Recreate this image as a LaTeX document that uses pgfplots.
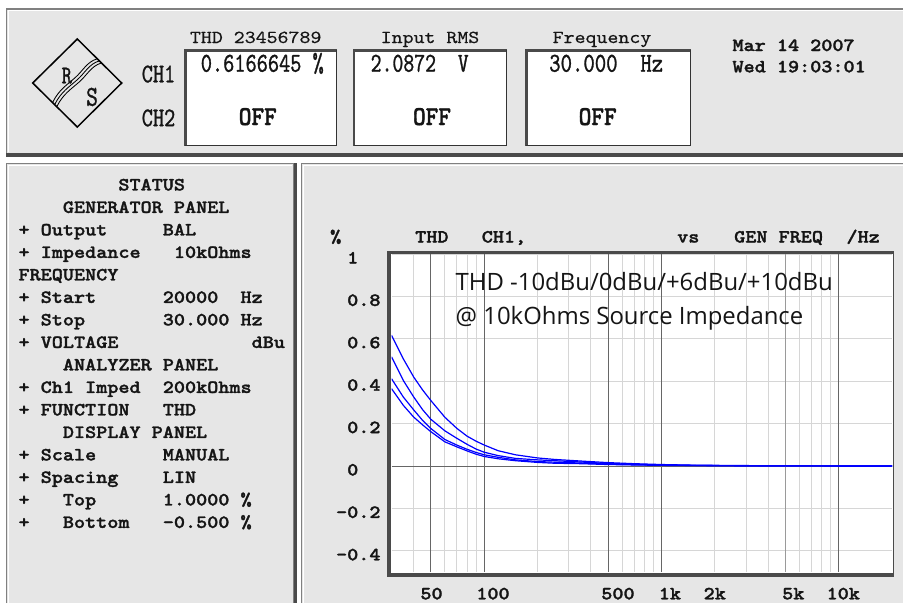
\documentclass[border=0pt]{standalone}
\usepackage{graphicx}
\usepackage{pgfplots}
\pgfplotsset{compat=1.18}
\usepackage{pgfplotstable}
\usepackage{fontspec}
\newfontfamily\courb[FakeStretch=1.14, FakeBold=1.6]{lmmonolt10-bold.otf}
\newfontfamily\courr[FakeStretch=1.14, FakeBold=0.4]{lmmono10-regular.otf}
\newfontfamily\condr[FakeStretch=0.77, FakeBold=1.0]{lmmono10-regular.otf}
\newfontfamily\condb[FakeStretch=0.77, FakeBold=1.2]{lmmonolt10-bold.otf}
\newfontfamily\comic{Open Sans}
\definecolor{panel}{HTML}{E6E6E6}
\definecolor{edge}{HTML}{808080}
\definecolor{dark}{HTML}{4A4A4A}
\definecolor{gridl}{HTML}{D6D6D6}
\definecolor{gridd}{HTML}{666666}
\definecolor{gridm}{HTML}{9A9A9A}
\definecolor{txt}{HTML}{151515}
\definecolor{trace}{HTML}{0000FF}

\pgfplotstableread{
f y
30 0.617
35 0.505
40 0.420
45 0.358
50 0.309
60 0.230
70 0.178
80 0.141
90 0.117
100 0.099
120 0.072
150 0.053
200 0.038
250 0.031
350 0.0235
500 0.016
700 0.011
1000 0.007
1500 0.004
2000 0.003
3000 0.002
5000 0.001
10000 0.0005
20000 0.0
}\curveA
\pgfplotstableread{
f y
30 0.515
35 0.403
40 0.326
45 0.265
50 0.2205
60 0.166
70 0.131
80 0.1025
90 0.080
100 0.065
120 0.049
150 0.036
200 0.029
250 0.025
350 0.019
500 0.012
700 0.008
1000 0.005
1500 0.003
2000 0.002
3000 0.0015
5000 0.001
10000 0.0005
20000 0.0
}\curveB
\pgfplotstableread{
f y
30 0.412
35 0.325
40 0.265
45 0.2145
50 0.177
60 0.125
70 0.099
80 0.079
90 0.064
100 0.053
120 0.041
150 0.029
200 0.021
250 0.018
350 0.014
500 0.009
700 0.006
1000 0.004
1500 0.0025
2000 0.002
3000 0.0015
5000 0.001
10000 0.0005
20000 0.0
}\curveC
\pgfplotstableread{
f y
30 0.365
35 0.286
40 0.231
45 0.1935
50 0.162
60 0.114
70 0.0906
80 0.0713
90 0.0557
100 0.045
120 0.034
150 0.025
200 0.017
250 0.013
350 0.011
500 0.007
700 0.005
1000 0.003
1500 0.002
2000 0.0015
3000 0.001
5000 0.0008
10000 0.0004
20000 0.0
}\curveD

\newcommand\fb{\courb\fontsize{18.55}{20}\selectfont}
\newcommand\fr{\courr\fontsize{18.3}{20}\selectfont}
\newcommand\fitw[2]{\resizebox{#1}{\height}{#2}}

\begin{document}
\begin{tikzpicture}
\begin{scope}[x=1pt,y=-1pt]
\useasboundingbox (0,0) rectangle (903,603);
\fill[white] (0,0) rectangle (903,603);
% ---------- top panel
\fill[panel] (6,8.3) rectangle (903,156.7);
\draw[edge, line width=1.2pt] (6.6,156) -- (6.6,8.9) -- (903,8.9);
\draw[white, line width=1pt] (8.4,152) -- (8.4,10.7) -- (903,10.7);
\fill[dark] (6,152.7) rectangle (903,156.7);
% ---------- status panel
\fill[panel] (6,162.7) rectangle (297,603);
\draw[edge, line width=1.2pt] (6.6,603) -- (6.6,163.3) -- (294,163.3);
\draw[white, line width=1pt] (8.6,603) -- (8.6,165.5) -- (292,165.5);
\fill[edge] (292.7,163) rectangle (294,603);
\fill[dark] (294,163) rectangle (296.8,603);
% ---------- plot panel
\fill[panel] (300.7,162.7) rectangle (903,603);
\draw[edge, line width=1.2pt] (301.3,603) -- (301.3,163.3) -- (903,163.3);
\draw[white, line width=1pt] (303.5,603) -- (303.5,165.5) -- (903,165.5);
% ---------- display boxes
\foreach \xa/\xb in {184.3/337, 353/507, 525.3/691.2}{
  \fill[white] (\xa,49.3) rectangle (\xb,145.7);
  \fill[dark] (\xa,49.3) rectangle (\xb,52.3);
  \fill[dark] (\xa,49.3) rectangle ({\xa+2.2},145.7);
  \draw[black!80, line width=1pt] ({\xa+1},145.2) -- ({\xb-0.5},145.2) -- ({\xb-0.5},50);
}
% ---------- logo
\draw[black, line width=1.5pt, line join=miter] (77.3,39) -- (121.7,83) -- (77.3,127) -- (32.7,83) -- cycle;
\foreach \d in {-2.1,0,2.1}{
  \draw[black, line width=0.85pt, shift={(\d,\d)}] (55,104) .. controls (61,92) and (69,87) .. (77,80) .. controls (85,73) and (89,64) .. (99,61);
}
\node[anchor=base west, inner sep=0pt, text=txt, font=\condr\fontsize{25.5}{24}\selectfont] at (61.5,83.3) {R};
\node[anchor=base west, inner sep=0pt, text=txt, font=\condr\fontsize{29}{28}\selectfont] at (86,105.8) {S};
\node[anchor=base west, inner sep=0pt, text=txt, font=\condr\fontsize{27}{27}\selectfont] at (141.6,82.3) {\fitw{33.5pt}{CH1}};
\node[anchor=base west, inner sep=0pt, text=txt, font=\condr\fontsize{27}{27}\selectfont] at (141.6,126.2) {\fitw{33.5pt}{CH2}};
% ---------- box titles and values
\node[anchor=base, inner sep=0pt, text=txt, font=\fr] at (255.7,43) {THD~23456789};
\node[anchor=base, inner sep=0pt, text=txt, font=\fr] at (430,43) {Input~RMS};
\node[anchor=base, inner sep=0pt, text=txt, font=\fr] at (602,43) {Frequency};
\begin{scope}[every node/.style={anchor=base west, inner sep=0pt, text=txt, font=\condr\fontsize{27.3}{27}\selectfont}]
\node at (200.6,71.7) {\fitw{123pt}{0.6166645~\%}};
\node at (370.5,71.7) {\fitw{98pt}{2.0872~~V}};
\node at (549,71.7) {\fitw{114pt}{30.000~~Hz}};
\end{scope}
\begin{scope}[every node/.style={anchor=base, inner sep=0pt, text=txt, font=\condb\fontsize{27.3}{27}\selectfont}]
\node at (257.8,125) {\fitw{38pt}{OFF}};
\node at (432,125) {\fitw{38pt}{OFF}};
\node at (597.7,125) {\fitw{38pt}{OFF}};
\end{scope}
\node[anchor=base west, inner sep=0pt, text=txt, font=\fb] at (732.3,51) {Mar~14~2007};
\node[anchor=base west, inner sep=0pt, text=txt, font=\fb] at (732.3,72.3) {Wed~19:03:01};
% ---------- status text
\begin{scope}[every node/.style={anchor=base west, inner sep=0pt, text=txt, font=\fb}]
\node at (18.3,190.4) {~~~~~~~~~STATUS};
\node at (18.3,212.9) {~~~~GENERATOR~PANEL};
\node at (18.3,235.4) {+~Output~~~~~BAL};
\node at (18.3,257.9) {+~Impedance~~~10kOhms};
\node at (18.3,280.4) {FREQUENCY};
\node at (18.3,302.9) {+~Start~~~~~~20000~~Hz};
\node at (18.3,325.4) {+~Stop~~~~~~~30.000~Hz};
\node at (18.3,347.9) {+~VOLTAGE~~~~~~~~~~~~dBu};
\node at (18.3,370.4) {~~~~ANALYZER~PANEL};
\node at (18.3,392.9) {+~Ch1~Imped~~200kOhms};
\node at (18.3,415.4) {+~FUNCTION~~~THD};
\node at (18.3,437.9) {~~~~DISPLAY~PANEL};
\node at (18.3,460.4) {+~Scale~~~~~~MANUAL};
\node at (18.3,482.9) {+~Spacing~~~~LIN};
\node at (18.3,505.4) {+~~~Top~~~~~~1.0000~\%};
\node at (18.3,527.9) {+~~~Bottom~~~-0.500~\%};
\end{scope}
% ---------- plot frame
\fill[dark] (386.7,250.7) rectangle (894,577.3);
\fill[white] (390.7,254) rectangle (892.6,573.3);
\end{scope}

\begin{axis}[
  at={(391.5pt,-572pt)}, anchor=south west,
  scale only axis, width=500.5pt, height=318pt,
  xmode=log, xmin=30, xmax=20000, ymin=-0.5, ymax=1,
  axis line style={draw=none},
  axis background/.style={fill=white},
  major tick length=0pt, minor tick length=0pt,
  tick style={draw=none},
  xtick={50,100,500,1000,2000,5000,10000},
  xticklabels={{\makebox[0pt]{\kern1.4pt 50}},{\makebox[0pt]{\kern17.6pt 100}},{\makebox[0pt]{\kern19.8pt 500}},{\makebox[0pt]{\kern17pt 1k}},{\makebox[0pt]{2k}},{\makebox[0pt]{\kern16pt 5k}},{\makebox[0pt]{\kern9.2pt 10k}}},
  xticklabel style={font=\fb, text=txt, anchor=base, inner sep=0pt, yshift=-27.3pt},
  minor xtick={40,60,70,80,90,200,300,400,600,700,800,900,2000,3000,4000,6000,7000,8000,9000},
  xminorgrids,
  minor grid style={gridl, line width=0.9pt},
  ytick={-0.4,-0.2,0,0.2,0.4,0.6,0.8,1},
  yticklabels={\llap{-}0.4,\llap{-}0.2,0,0.2,0.4,0.6,0.8,1},
  yticklabel style={font=\fb, text=txt, anchor=base west, inner sep=0pt, xshift=-44.5pt, yshift=-9.5pt},
  ymajorgrids,
  major grid style={gridl, line width=0.9pt},
  extra x ticks={50,100,500,1000,10000},
  extra x tick labels={},
  extra x tick style={grid=major, major grid style={gridd, line width=1pt}},
  extra y ticks={0},
  extra y tick labels={},
  extra y tick style={grid=major, major grid style={gridd, line width=1pt}},
]
\draw[gridm, line width=1.2pt] (axis cs:5000,-0.5) -- (axis cs:5000,1);
\addplot[trace, line width=1.2pt] table[x=f, y=y] {\curveA};
\addplot[trace, line width=1.2pt] table[x=f, y=y] {\curveB};
\addplot[trace, line width=1.2pt] table[x=f, y=y] {\curveC};
\addplot[trace, line width=1.2pt] table[x=f, y=y] {\curveD};
\end{axis}

\begin{scope}[x=1pt,y=-1pt]
\begin{scope}[every node/.style={anchor=base west, inner sep=0pt, text=txt, font=\fb}]
\node at (330,242.5) {\%};
\node at (415,242.5) {THD};
\node at (481.6,242.5) {CH1,};
\node at (677,242.5) {vs};
\node at (734,242.5) {GEN~FREQ};
\node at (846.3,242.5) {/Hz};
\end{scope}
\node[anchor=base west, inner sep=0pt, text=txt, font=\comic\fontsize{23.9}{24}\selectfont] at (455.5,290.7) {THD -10dBu/0dBu/+6dBu/+10dBu};
\node[anchor=base west, inner sep=0pt, text=txt, font=\comic\fontsize{23.9}{24}\selectfont] at (455.5,324.3) {@ 10kOhms Source Impedance};
\end{scope}
\end{tikzpicture}
\end{document}
